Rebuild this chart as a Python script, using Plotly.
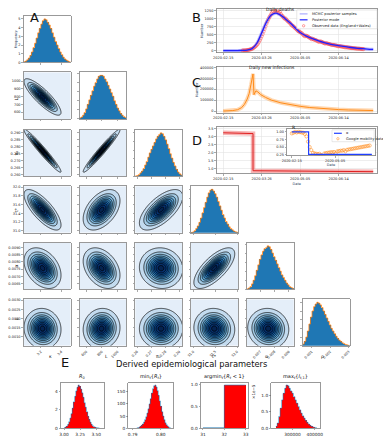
import numpy as np
import pandas as pd
import plotly.graph_objects as go

W, H = 383, 440
FONT = "DejaVu Sans"

# ---------------- DATA ----------------
param_labels = ["κ", "L", "π₀", "t*", "α", "ρ"]
param_lo = [3.03, 512, 0.2586, 30.95, 0.00609, 0.00051]
param_hi = [3.49, 1112, 0.2921, 32.02, 0.00934, 0.00305]
param_mean = [3.215, 795, 0.2770, 31.48, 0.00757, 0.00145]
param_sd = [0.074, 96, 0.0063, 0.19, 0.00058, 0.00045]
# correlation between parameters (row, col)
corr = {
    (1, 0): -0.85,
    (2, 0): -0.97, (2, 1): 0.97,
    (3, 0): -0.75, (3, 1): 0.45, (3, 2): 0.65,
    (4, 0): -0.35, (4, 1): -0.35, (4, 2): -0.05, (4, 3): 0.70,
    (5, 0): -0.05, (5, 1): 0.05, (5, 2): 0.0, (5, 3): -0.05, (5, 4): -0.05,
}
hist_counts = [
    [0.08, 0.15, 0.3, 0.5, 0.8, 1.2, 1.7, 2.2, 2.8, 3.4, 3.9, 4.4, 4.8, 5.0, 4.9, 4.6, 4.3, 3.9, 3.4, 2.9, 2.4, 2.0, 1.6, 1.2, 0.9, 0.6, 0.4, 0.25, 0.15, 0.08],
    [0.1, 0.2, 0.4, 0.7, 1.1, 1.6, 2.1, 2.6, 3.1, 3.6, 4.0, 4.4, 4.7, 4.8, 4.8, 4.7, 4.4, 4.1, 3.7, 3.3, 2.9, 2.5, 2.0, 1.6, 1.2, 0.9, 0.6, 0.4, 0.25, 0.15],
    [0.05, 0.1, 0.2, 0.4, 0.6, 0.9, 1.3, 1.7, 2.2, 2.7, 3.1, 3.5, 3.9, 4.3, 4.6, 4.8, 5.0, 4.9, 4.6, 4.2, 3.7, 3.2, 2.6, 2.1, 1.6, 1.2, 0.8, 0.5, 0.3, 0.15],
    [0.05, 0.1, 0.25, 0.5, 0.8, 1.2, 1.7, 2.3, 2.9, 3.5, 4.1, 4.6, 4.9, 5.0, 4.8, 4.5, 4.1, 3.6, 3.1, 2.6, 2.1, 1.7, 1.3, 1.0, 0.7, 0.5, 0.35, 0.2, 0.12, 0.06],
    [0.05, 0.15, 0.3, 0.6, 1.0, 1.5, 2.1, 2.7, 3.3, 3.8, 4.2, 4.5, 4.6, 4.8, 4.7, 4.4, 4.0, 3.6, 3.2, 2.8, 2.4, 2.0, 1.6, 1.3, 1.0, 0.7, 0.5, 0.3, 0.2, 0.1],
    [0.2, 0.5, 1.0, 1.7, 2.5, 3.3, 4.0, 4.5, 4.8, 5.0, 4.9, 4.7, 4.4, 4.0, 3.6, 3.2, 2.8, 2.4, 2.0, 1.7, 1.4, 1.1, 0.85, 0.65, 0.5, 0.35, 0.25, 0.15, 0.1, 0.05],
]
ytick_vals = [
    None,
    [600, 700, 800, 900, 1000],
    [0.260, 0.265, 0.270, 0.275, 0.280, 0.285, 0.290],
    [31.0, 31.2, 31.4, 31.6, 31.8, 32.0],
    [0.0065, 0.0070, 0.0075, 0.0080, 0.0085, 0.0090],
    [0.0010, 0.0015, 0.0020, 0.0025, 0.0030],
]
ytick_fmt = [None, "d", ".3f", ".1f", ".4f", ".4f"]
xtick_vals = [[3.2, 3.4], [600, 800, 1000], [0.26, 0.27, 0.28, 0.29], [31.0, 31.5, 32.0],
              [0.007, 0.008, 0.009], [0.001, 0.002, 0.003]]
xtick_fmt = [".1f", "d", ".2f", ".1f", ".3f", ".3f"]

date_ticks = ["2020-02-15", "2020-03-26", "2020-05-05", "2020-06-14"]

# B: daily deaths
model_dates = ["2020-02-15", "2020-02-20", "2020-02-25", "2020-03-01", "2020-03-06", "2020-03-11",
               "2020-03-16", "2020-03-21", "2020-03-26", "2020-03-31", "2020-04-05", "2020-04-10",
               "2020-04-15", "2020-04-20", "2020-04-25", "2020-04-30", "2020-05-05", "2020-05-10",
               "2020-05-15", "2020-05-20", "2020-05-25", "2020-05-30", "2020-06-04", "2020-06-09",
               "2020-06-14", "2020-06-19", "2020-06-24", "2020-06-29", "2020-07-04", "2020-07-09",
               "2020-07-14", "2020-07-20"]
model_deaths = [0, 0, 0, 1, 3, 15, 60, 230, 560, 900, 1120, 1180, 1110, 990, 860, 710, 570, 480,
                410, 350, 295, 250, 210, 180, 155, 130, 108, 88, 72, 58, 46, 36]
obs_start = "2020-03-06"
obs_deaths = [2, 3, 5, 7, 9, 14, 18, 25, 32, 42, 55, 70, 92, 115, 140, 175, 210, 260, 320, 380,
              450, 520, 600, 680, 760, 850,
              920, 990, 1050, 1100, 1160, 1200, 1240, 1370, 1250, 1230, 1270, 1200, 1180, 1220,
              1150, 1100, 1080, 1030, 1000, 1010, 960, 930, 900, 880, 840, 800, 780, 760, 730, 700,
              680, 640, 610, 600, 580, 560, 540, 500, 470, 450, 470, 460, 440, 420, 400, 380, 360,
              370, 350, 340, 330, 315, 300, 280, 275, 290, 280, 260, 250, 235, 220,
              230, 225, 215, 205, 200, 185, 175, 180, 175, 165, 160, 150, 140, 135, 140, 135, 125,
              120, 115, 110, 100, 105, 100, 95, 90, 85, 80, 75, 78, 72,
              70, 65, 62, 58, 60, 55, 52, 50, 48, 45]

# C: daily new infections
inf_dates = ["2020-02-15", "2020-02-20", "2020-02-25", "2020-03-01", "2020-03-05", "2020-03-08",
             "2020-03-11", "2020-03-13", "2020-03-15", "2020-03-16", "2020-03-17", "2020-03-18",
             "2020-03-19", "2020-03-20", "2020-03-22", "2020-03-25", "2020-03-30", "2020-04-05",
             "2020-04-15", "2020-04-25", "2020-05-05", "2020-05-15", "2020-05-25", "2020-06-04",
             "2020-06-14", "2020-06-24", "2020-07-04", "2020-07-14", "2020-07-20"]
inf_vals = [0, 1000, 4000, 12000, 30000, 60000, 110000, 160000, 240000, 290000, 340000, 150000,
            175000, 185000, 175000, 150000, 125000, 100000, 75000, 57000, 43000, 32000, 24000,
            18000, 13000, 9500, 7000, 5000, 4000]

# D: R_t
r_dates = ["2020-02-15", "2020-03-17", "2020-03-17", "2020-07-20"]
r_vals = [3.25, 3.20, 0.86, 0.80]
alpha_dates = ["2020-02-15", "2020-03-17", "2020-03-17", "2020-07-12"]
alpha_vals = [1.0, 1.0, 0.26, 0.26]
mob_start = "2020-02-15"
mobility = [0.95, 0.97, 1.00, 0.98, 1.00, 0.99, 0.98, 0.97, 0.93, 0.85, 0.68, 0.50, 0.40, 0.31,
            0.29, 0.28, 0.27, 0.28, 0.24, 0.20, 0.29, 0.30, 0.31, 0.32, 0.33, 0.33, 0.34, 0.30,
            0.36, 0.37, 0.38, 0.38, 0.40, 0.36, 0.41, 0.42, 0.43, 0.44, 0.45, 0.46, 0.47, 0.48,
            0.49, 0.50, 0.51, 0.52, 0.53, 0.54, 0.55]

legend_b = ["MCMC posterior samples", "Posterior mode", "Observed data (England+Wales)"]
legend_d = ["α", "Google mobility data"]

# E: derived parameters
e_titles = ["<i>R</i><sub>0</sub>", "min<sub><i>t</i></sub>{<i>R<sub>t</sub></i>}",
            "argmin<sub><i>t</i></sub>{<i>R<sub>t</sub></i> < 1}",
            "max<sub><i>t</i></sub>{<i>I</i><sub><i>t</i>,1</sub>}"]
r0_lo, r0_hi = 3.0, 3.55
r0_counts = [0.05, 0.1, 0.2, 0.4, 0.7, 1.1, 1.6, 2.2, 2.9, 3.5, 4.1, 4.5, 4.75, 4.6, 4.3, 3.9, 3.4,
             2.8, 2.3, 1.8, 1.3, 0.95, 0.65, 0.4, 0.25, 0.15, 0.08, 0.05, 0.02, 0.01]
minr_lo, minr_hi = 0.7915, 0.8035
minr_counts = [1, 2, 4, 7, 11, 17, 25, 35, 47, 62, 80, 100, 122, 145, 163, 175, 178, 170, 155, 135,
               112, 90, 68, 50, 35, 22, 14, 8, 4, 2]
argmin_lo, argmin_hi = 31, 33
argmin_counts = [0.01, 0.98]
maxi_lo, maxi_hi = 225000, 410000
maxi_counts = [0.05, 0.15, 0.35, 0.6, 0.85, 1.05, 1.2, 1.3, 1.28, 1.2, 1.12, 1.05, 0.95, 0.85,
               0.75, 0.65, 0.55, 0.45, 0.37, 0.3, 0.23, 0.17, 0.12, 0.08, 0.05, 0.03, 0.02, 0.01]

# ---------------- FIGURE ----------------
fig = go.Figure()
axn = [0]


def add_axes(x0, x1, y0, y1, xa=None, ya=None):
    axn[0] += 1
    n = axn[0]
    s = "" if n == 1 else str(n)
    xa = dict(xa or {})
    ya = dict(ya or {})
    xa.update(domain=[x0 / W, x1 / W], anchor="y" + s)
    ya.update(domain=[1 - y1 / H, 1 - y0 / H], anchor="x" + s)
    fig.update_layout(**{"xaxis" + s: xa, "yaxis" + s: ya})
    return "x" + s, "y" + s


def ann(text, x, y, size, **kw):
    fig.add_annotation(text=text, x=x / W, y=1 - y / H, xref="paper", yref="paper", showarrow=False,
                       font=dict(size=size, family=FONT, color="#111"), **kw)


tickfont = dict(size=3.5, family=FONT, color="#222")
frame = dict(showline=True, linecolor="#808080", linewidth=0.8, mirror=True, zeroline=False,
             showgrid=False, ticks="outside", ticklen=1.5, tickwidth=0.5, tickcolor="#555",
             tickfont=tickfont)

col_x = [19, 76, 133, 190, 247, 304]
row_y = [15, 72, 130, 187, 244, 301]
PW, PH = 48, 47

# stepped blues: one flat colour per contour band (levels 0.05, 0.15, ..., 0.95)
band_cols = ["#e4eef9", "#c3dbef", "#a3cbe6", "#7fb8dd", "#5aa2d2", "#3d8bc5", "#2572b4",
             "#1259a0", "#0a4284", "#08306b", "#06234f"]
band_edges = [0.0, 0.05, 0.15, 0.25, 0.35, 0.45, 0.55, 0.65, 0.75, 0.85, 0.95, 1.0]
blues = []
for k, c in enumerate(band_cols):
    blues.append([band_edges[k], c])
    blues.append([band_edges[k + 1], c])

for i in range(6):
    for j in range(i + 1):
        x0, y0 = col_x[j], row_y[i]
        xa = dict(frame, range=[param_lo[j], param_hi[j]], tickvals=xtick_vals[j],
                  showticklabels=(i == 5), tickformat=xtick_fmt[j], tickangle=-45)
        if i == j:
            cnt = hist_counts[i]
            nb = len(cnt)
            edges = np.linspace(param_lo[i], param_hi[i], nb + 1)
            centers = (edges[:-1] + edges[1:]) / 2
            bw = edges[1] - edges[0]
            ya = dict(frame, range=[0, max(cnt) * 1.07])
            if i == 0:
                ya.update(tickvals=[0, 1, 2, 3, 4, 5], showticklabels=True,
                          title=dict(text="Frequency", font=dict(size=3.5, family=FONT), standoff=1))
            else:
                ya.update(showticklabels=False, nticks=6)
            xr, yr = add_axes(x0, x0 + PW, y0, y0 + PH, xa, ya)
            fig.add_trace(go.Bar(x=centers, y=cnt, width=bw, marker=dict(color="#1f77b4", line_width=0),
                                 xaxis=xr, yaxis=yr, showlegend=False))
            fig.add_trace(go.Scatter(x=edges, y=list(cnt) + [cnt[-1]], mode="lines", line_shape="hv",
                                     line=dict(color="#ff7f0e", width=0.8), xaxis=xr, yaxis=yr,
                                     showlegend=False))
        else:
            ya = dict(frame, range=[param_lo[i], param_hi[i]], tickvals=ytick_vals[i],
                      tickformat=ytick_fmt[i], showticklabels=(j == 0))
            xr, yr = add_axes(x0, x0 + PW, y0, y0 + PH, xa, ya)
            gx = np.linspace(param_lo[j], param_hi[j], 90)
            gy = np.linspace(param_lo[i], param_hi[i], 90)
            u = (gx[None, :] - param_mean[j]) / param_sd[j]
            v = (gy[:, None] - param_mean[i]) / param_sd[i]
            r = corr[(i, j)]
            z = np.exp(-(u ** 2 - 2 * r * u * v + v ** 2) / (2 * (1 - r ** 2)))
            fig.add_trace(go.Contour(x=gx, y=gy, z=z, zmin=0, zmax=1, colorscale=blues,
                                     showscale=False,
                                     contours=dict(start=0.05, end=0.95, size=0.1, coloring="fill"),
                                     line=dict(color="black", width=0.7), xaxis=xr, yaxis=yr,
                                     hoverinfo="skip"))

# parameter names: left of column 1 and under row 6
for i in range(1, 6):
    ann(param_labels[i], 7, row_y[i] + PH / 2, 4.5, textangle=-90)
for j in range(6):
    ann(param_labels[j], col_x[j] + PW / 2, 363, 4.5)

# --- date panels ---
dframe = dict(showline=True, linecolor="#808080", linewidth=0.8, mirror=True, zeroline=False,
              showgrid=True, gridcolor="#e3e3e3", gridwidth=0.6, ticks="outside", ticklen=1.5,
              tickwidth=0.5, tickcolor="#555", tickfont=tickfont)
dx_range = ["2020-02-08", "2020-07-24"]

# B
xr, yr = add_axes(216, 380, 8, 52,
                  dict(dframe, range=dx_range, tickvals=date_ticks, ticktext=date_ticks, type="date"),
                  dict(dframe, range=[-62, 1312], tickvals=[0, 250, 500, 750, 1000, 1250],
                       title=dict(text="Number", font=dict(size=3.5, family=FONT), standoff=1)))
fig.add_trace(go.Scatter(x=model_dates, y=model_deaths, mode="lines", line_shape="spline",
                         line=dict(color="rgba(120,120,255,0.5)", width=3.2), xaxis=xr, yaxis=yr,
                         showlegend=False))
obs_dates = pd.date_range(obs_start, periods=len(obs_deaths), freq="D")
fig.add_trace(go.Scatter(x=obs_dates, y=obs_deaths, mode="markers",
                         marker=dict(symbol="circle-open", size=3.2, color="rgba(255,60,60,0.6)",
                                     line=dict(width=0.7)),
                         xaxis=xr, yaxis=yr, showlegend=False))
fig.add_trace(go.Scatter(x=model_dates, y=model_deaths, mode="lines", line_shape="spline",
                         line=dict(color="#2020ff", width=1.3), xaxis=xr, yaxis=yr,
                         showlegend=False))

# C
xr, yr = add_axes(216, 380, 66, 113,
                  dict(dframe, range=dx_range, tickvals=date_ticks, ticktext=date_ticks, type="date"),
                  dict(dframe, range=[-18000, 409000], tickvals=[0, 100000, 200000, 300000, 400000],
                       tickformat="d",
                       title=dict(text="Number", font=dict(size=3.5, family=FONT), standoff=1)))
fig.add_trace(go.Scatter(x=inf_dates, y=inf_vals, mode="lines",
                         line=dict(color="rgba(255,140,30,0.35)", width=4), xaxis=xr, yaxis=yr,
                         showlegend=False))
fig.add_trace(go.Scatter(x=inf_dates, y=inf_vals, mode="lines",
                         line=dict(color="#ff8c1a", width=1.0), xaxis=xr, yaxis=yr,
                         showlegend=False))

# D
xr, yr = add_axes(216, 380, 127, 174,
                  dict(dframe, range=dx_range, tickvals=date_ticks, ticktext=date_ticks, type="date",
                       title=dict(text="Date", font=dict(size=3.5, family=FONT), standoff=2)),
                  dict(dframe, range=[0.69, 3.625], tickvals=[1.0, 1.5, 2.0, 2.5, 3.0, 3.5],
                       tickformat=".1f"))
fig.add_trace(go.Scatter(x=r_dates, y=r_vals, mode="lines",
                         line=dict(color="rgba(230,40,40,0.35)", width=4.5), xaxis=xr, yaxis=yr,
                         showlegend=False))
fig.add_trace(go.Scatter(x=r_dates, y=r_vals, mode="lines",
                         line=dict(color="#e02020", width=1.0), xaxis=xr, yaxis=yr, showlegend=False))

# inset (white backing so the main panel's grid does not show through)
IX0, IX1, IY0, IY1 = 288, 378, 129, 156
fig.add_shape(type="rect", xref="paper", yref="paper", x0=IX0 / W, x1=IX1 / W,
              y0=1 - IY1 / H, y1=1 - IY0 / H, fillcolor="white", line_width=0, layer="between")
xr, yr = add_axes(IX0, IX1, IY0, IY1,
                  dict(dframe, range=["2020-02-06", "2020-07-18"], tickvals=["2020-02-15", "2020-05-05"],
                       ticktext=["2020-02-15", "2020-05-05"], type="date", showgrid=False,
                       title=dict(text="Date", font=dict(size=3.5, family=FONT), standoff=1)),
                  dict(dframe, range=[0.22, 1.10], tickvals=[0.25, 0.5, 0.75, 1.0], tickformat=".2f",
                       showgrid=False))
mob_dates = pd.date_range(mob_start, periods=len(mobility), freq="3D")
fig.add_trace(go.Scatter(x=mob_dates, y=mobility, mode="markers",
                         marker=dict(symbol="circle-open", size=3.2, color="rgba(255,140,30,0.8)",
                                     line=dict(width=0.7)),
                         xaxis=xr, yaxis=yr, showlegend=False))
fig.add_trace(go.Scatter(x=alpha_dates, y=alpha_vals, mode="lines",
                         line=dict(color="#2040ff", width=1.2), xaxis=xr, yaxis=yr, showlegend=False))


# manual legends (plotly's own legend rows are too tall at this size)
def legend_box(x0, y0, x1, y1):
    fig.add_shape(type="rect", xref="paper", yref="paper", x0=x0 / W, x1=x1 / W,
                  y0=1 - y1 / H, y1=1 - y0 / H, fillcolor="rgba(255,255,255,0.85)",
                  line=dict(color="#d0d0d0", width=0.5), layer="above")


def legend_line(x, y, color, width):
    fig.add_shape(type="line", xref="paper", yref="paper", x0=x / W, x1=(x + 8) / W,
                  y0=1 - y / H, y1=1 - y / H, line=dict(color=color, width=width), layer="above")


def legend_circle(x, y, color):
    fig.add_shape(type="circle", xref="paper", yref="paper", x0=(x + 2.8) / W, x1=(x + 5.2) / W,
                  y0=1 - (y + 1.2) / H, y1=1 - (y - 1.2) / H, line=dict(color=color, width=0.7),
                  layer="above")


def legend_text(text, x, y):
    fig.add_annotation(text=text, x=x / W, y=1 - y / H, xref="paper", yref="paper",
                       xanchor="left", yanchor="middle", showarrow=False,
                       font=dict(size=3.6, family=FONT, color="#222"))


legend_box(298, 9, 380, 28)
legend_line(301, 13, "rgba(150,150,255,0.8)", 1.2)
legend_line(301, 19, "#2020ff", 1.2)
legend_circle(301, 25, "rgba(255,60,60,0.7)")
for k, t in enumerate(legend_b):
    legend_text(t, 311, 13 + 6 * k)

legend_box(334, 130, 377, 142)
legend_line(336, 133.5, "#2040ff", 1.2)
legend_circle(336, 139, "rgba(255,140,30,0.8)")
for k, t in enumerate(legend_d):
    legend_text(t, 346, 133.5 + 5.5 * k)

# --- E panels ---
e_x = [(57, 101), (126, 172), (200, 248), (272, 322)]
ey0, ey1 = 385, 431
e_specs = [
    (r0_lo, r0_hi, r0_counts, [2.95, 3.62], [3.0, 3.25, 3.5], ".2f", [0, 2, 4], None),
    (minr_lo, minr_hi, minr_counts, [0.7885, 0.8045], [0.79, 0.80], ".2f", [0, 50, 100, 150], None),
    (argmin_lo, argmin_hi, argmin_counts, [30.9, 33.1], [31, 32, 33], "d", [0.0, 0.5, 1.0], ".1f"),
    (maxi_lo, maxi_hi, maxi_counts, [205000, 425000], [300000, 400000], "d", [0.0, 0.5, 1.0], ".1f"),
]
efont = dict(size=4.3, family=FONT, color="#222")
for k, (lo, hi, cnt, xrange_, xt, xf, yt, yf) in enumerate(e_specs):
    nb = len(cnt)
    edges = np.linspace(lo, hi, nb + 1)
    centers = (edges[:-1] + edges[1:]) / 2
    bw = edges[1] - edges[0]
    ya = dict(frame, range=[0, max(cnt) * 1.06], tickvals=yt, tickfont=efont)
    if yf:
        ya["tickformat"] = yf
    xa = dict(frame, range=xrange_, tickvals=xt, tickformat=xf, tickfont=efont)
    xr, yr = add_axes(e_x[k][0], e_x[k][1], ey0, ey1, xa, ya)
    fig.add_trace(go.Bar(x=centers, y=cnt, width=bw, marker=dict(color="#ff0000", line_width=0),
                         xaxis=xr, yaxis=yr, showlegend=False))
    fig.add_trace(go.Scatter(x=edges, y=list(cnt) + [cnt[-1]], mode="lines", line_shape="hv",
                             line=dict(color="#1f77b4", width=0.6), xaxis=xr, yaxis=yr,
                             showlegend=False))
    fig.add_annotation(text=e_titles[k], x=(e_x[k][0] + e_x[k][1]) / 2 / W, y=1 - (ey0 - 0.5) / H,
                       xref="paper", yref="paper", xanchor="center", yanchor="bottom",
                       showarrow=False, font=dict(size=5, family=FONT, color="#111"))

ann("×1e−5", 259, 404, 4, textangle=-90)

# titles & panel letters
ann("Daily deaths", 298, 4.5, 4.5)
ann("Daily new infections", 298, 62.5, 4.5)
ann("R", 298, 123.5, 4.5)
ann("A", 23, 7.5, 13)
ann("B", 196, 7, 13)
ann("C", 196, 73, 13)
ann("D", 196, 131, 13)
ann("E", 55, 374, 13)
ann("Derived epidemiological parameters", 190, 373, 8.3)

fig.update_layout(
    width=W, height=H, margin=dict(l=0, r=0, t=0, b=0),
    paper_bgcolor="white", plot_bgcolor="white", font=dict(family=FONT), bargap=0,
    showlegend=False,
)

fig.write_html("out.html", config={"displayModeBar": False, "staticPlot": True},
               post_script="document.body.style.margin='0';document.body.style.padding='0';")
